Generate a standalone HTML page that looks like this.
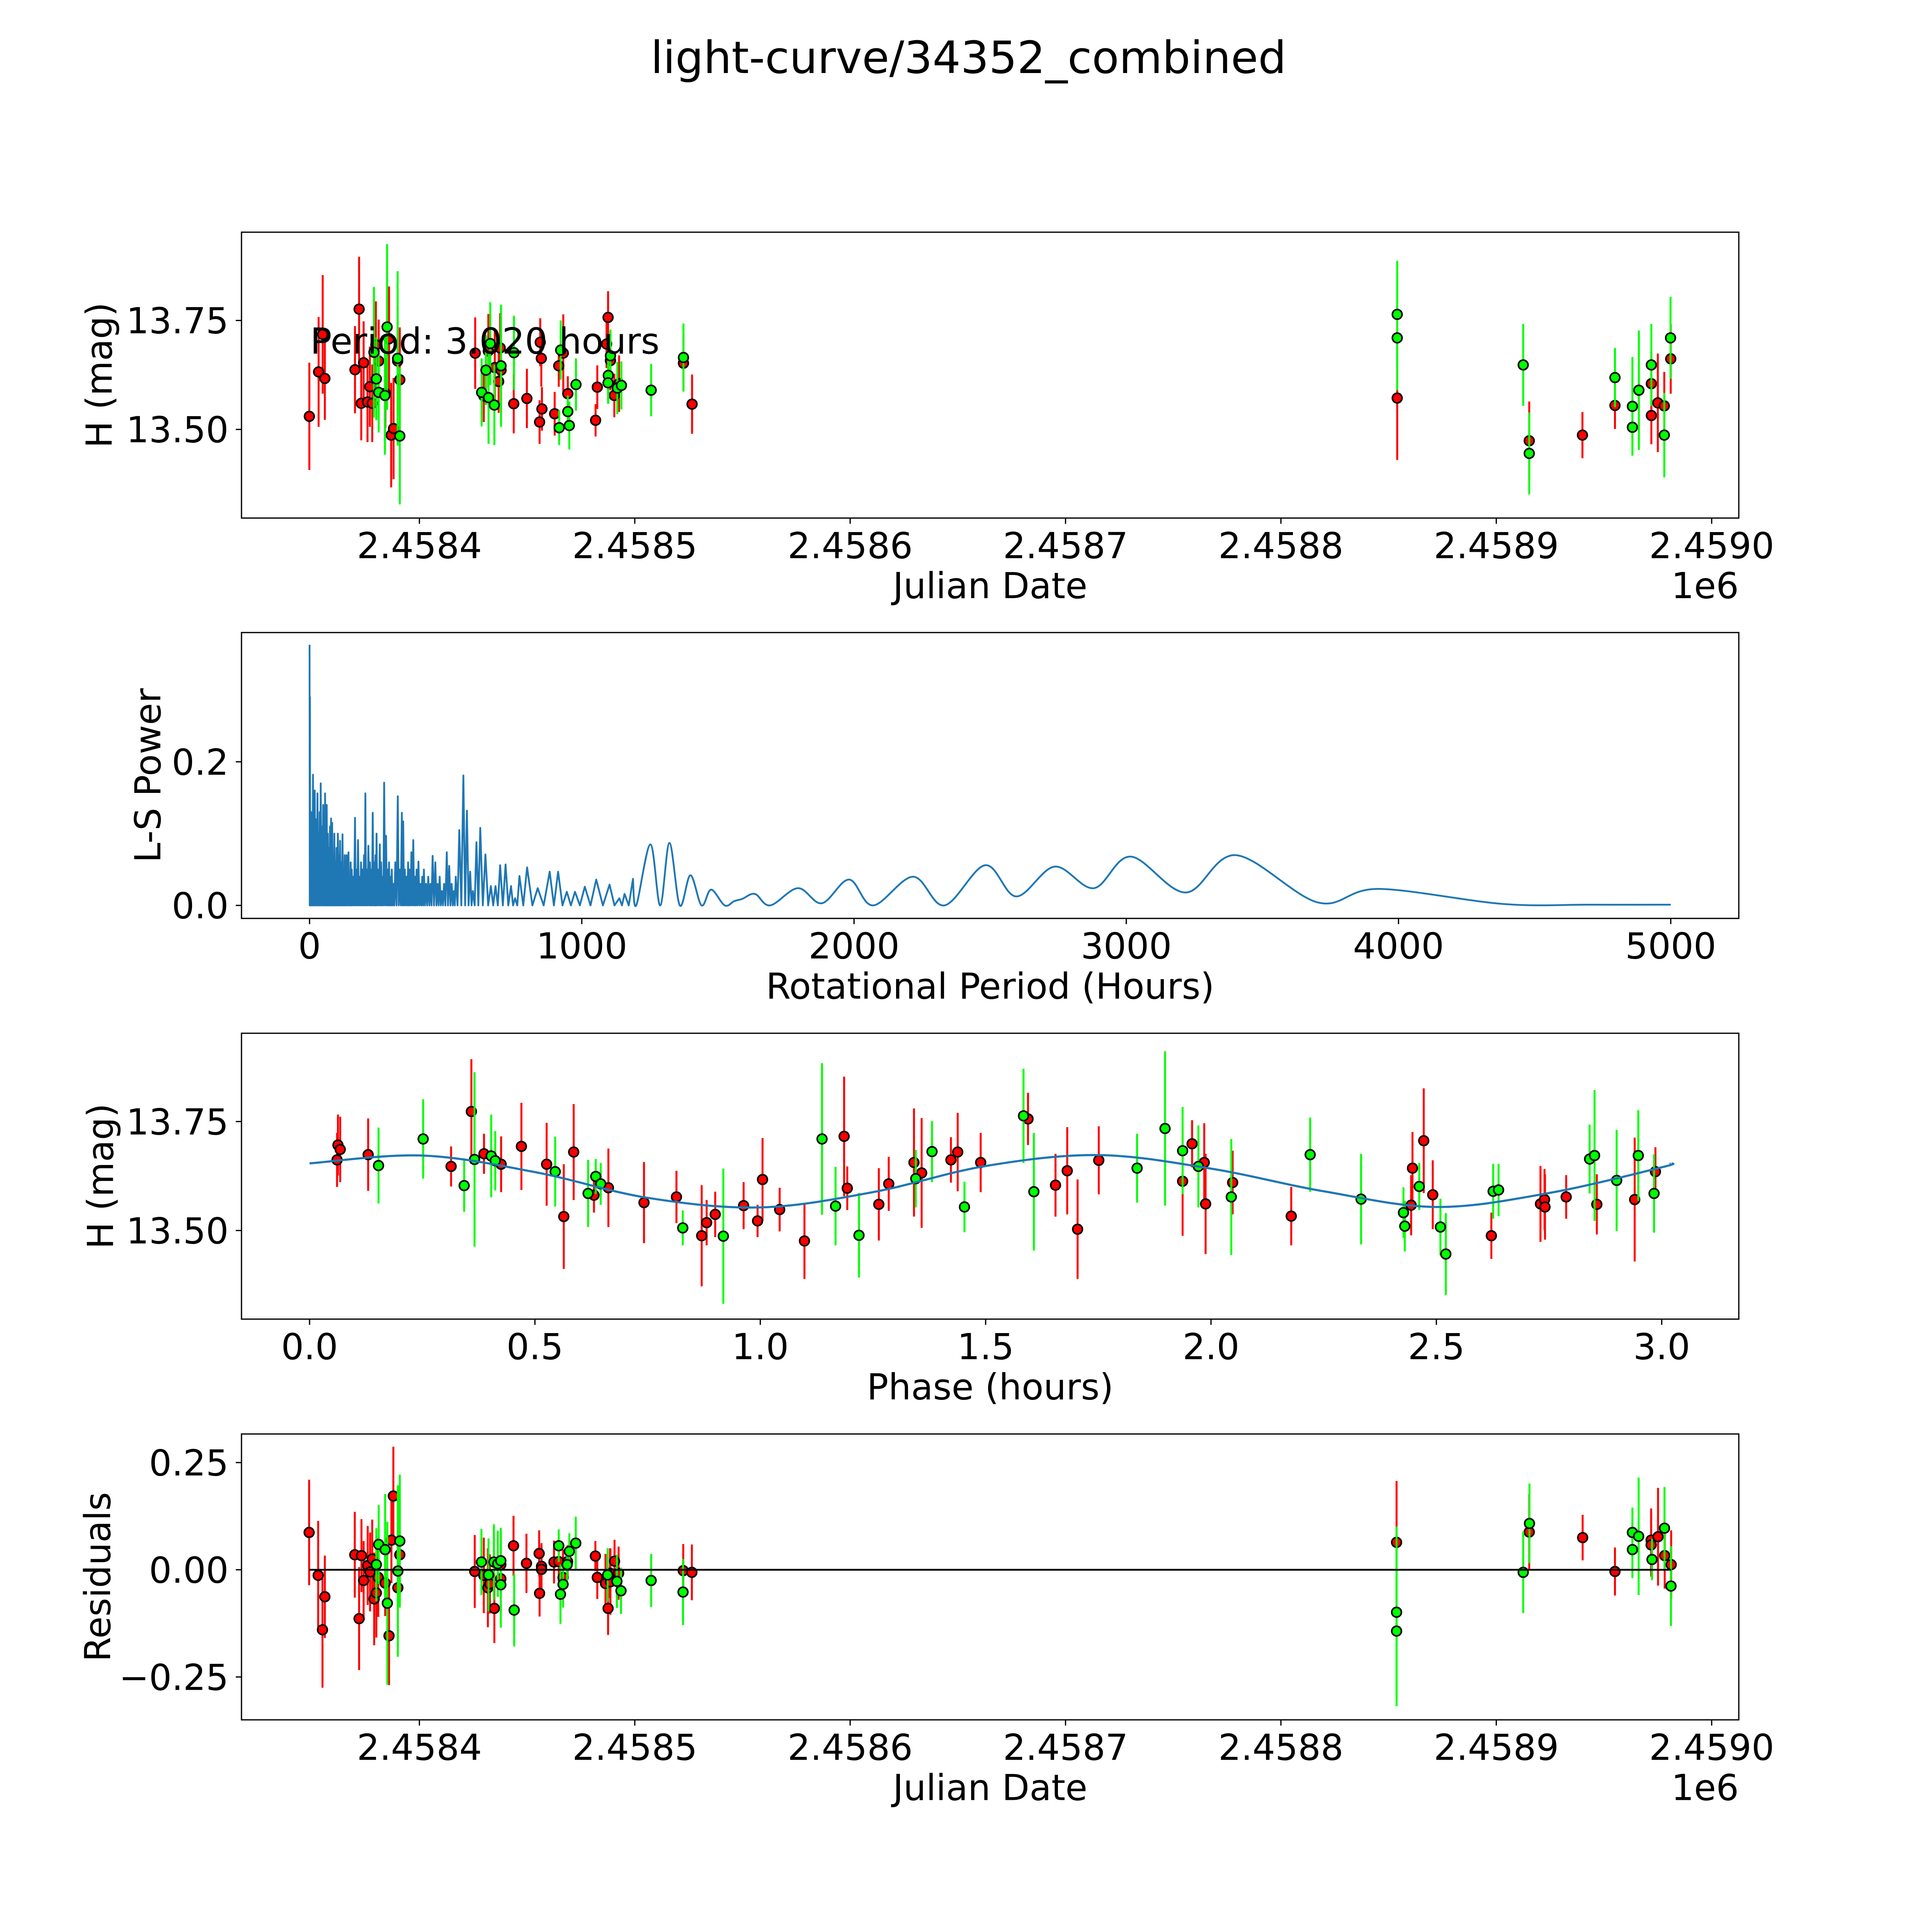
<!DOCTYPE html>
<html><head><meta charset="utf-8"><title>light-curve/34352_combined</title>
<style>html,body{margin:0;padding:0;background:#fff;overflow:hidden;width:5400px;height:5400px}svg{display:block}</style></head>
<body>
<svg id="chart" xmlns="http://www.w3.org/2000/svg" width="5400" height="5400" viewBox="0 0 5832 5832" font-family="DejaVu Sans, Liberation Sans, sans-serif">
<rect x="0" y="0" width="100%" height="100%" fill="#fff"/>
<text x="2707" y="204" font-size="124" text-anchor="middle">light-curve/34352_combined</text>
</svg>
<script>
// ---------- data ----------
const JD0 = 2458000;
const jdTickLabels = ["2.4584","2.4585","2.4586","2.4587","2.4588","2.4589","2.4590"];
const jdTickValues = [400,500,600,700,800,900,1000];
const magTickValues = [13.75,13.50];
const magTickLabels = ["13.75","13.50"];
// panel 1 : light curve vs Julian date (day = JD - 2458000)
const lcRedDay = [348.9,353.2,355.1,356.1,370.1,372.0,374.1,373.0,375.9,377.0,378.1,379.8,381.1,384.2,385.9,386.9,388.0,389.9,390.9,425.9,429.9,432.0,435.0,436.8,437.9,437.5,443.8,449.9,456.1,456.6,456.9,455.8,462.8,464.7,466.8,468.9,481.8,482.6,487.6,486.9,488.7,490.5,492.7,522.6,526.6,854.0,915.3,940.0,955.1,972.0,972.0,975.0,978.0,981.0];
const lcRedMag = [13.530,13.632,13.718,13.617,13.637,13.776,13.653,13.560,13.563,13.598,13.560,13.694,13.657,13.583,13.708,13.487,13.502,13.657,13.614,13.675,13.577,13.680,13.642,13.610,13.636,13.687,13.559,13.571,13.700,13.663,13.547,13.517,13.536,13.646,13.675,13.582,13.521,13.597,13.757,13.696,13.658,13.578,13.605,13.652,13.558,13.572,13.474,13.487,13.555,13.605,13.532,13.561,13.554,13.662];
const lcRedErr = [.123,.126,.136,.095,.10,.12,.095,.085,.092,.092,.089,.10,.095,.08,.12,.12,.116,.126,.12,.082,.06,.085,.085,.072,.1,.08,.068,.068,.055,.065,.05,.05,.05,.048,.089,.04,.037,.05,.06,.055,.068,.05,.065,.065,.068,.142,.09,.053,.054,.073,.066,.113,.078,.08];
const lcGreenDay = [378.9,380.0,381.1,384.0,385.0,389.9,390.9,428.9,430.9,432.9,432.1,434.8,437.9,443.9,464.9,465.6,468.9,469.6,472.7,488.7,487.7,487.6,491.9,493.8,507.6,522.6,854.0,854.0,912.5,915.3,955.1,963.2,963.2,966.2,972.0,978.0,980.9];
const lcGreenMag = [13.677,13.616,13.585,13.578,13.735,13.663,13.485,13.585,13.636,13.697,13.573,13.556,13.646,13.676,13.504,13.682,13.541,13.509,13.603,13.669,13.624,13.607,13.595,13.601,13.590,13.665,13.764,13.710,13.648,13.445,13.619,13.553,13.505,13.590,13.648,13.487,13.710];
const lcGreenErr = [.15,.095,.092,.136,.19,.2,.157,.078,.08,.095,.106,.092,.14,.085,.04,.068,.037,.055,.06,.06,.065,.048,.06,.055,.06,.078,.123,.12,.094,.094,.068,.113,.065,.137,.094,.097,.094];

// panel 2 : Lomb-Scargle periodogram
const periodTickValues = [0,1000,2000,3000,4000,5000];
const periodTickLabels = ["0","1000","2000","3000","4000","5000"];
const powerTickValues = [0.0,0.2];
const powerTickLabels = ["0.0","0.2"];
const densePeriods = [0,1.5,3,6,9,12.6,16,19,24,29,34,37,41,46,50,54,57,60,63,67,71,75,79,83,87,91,95,99,104,108,112,116,121,125,129,132,136,143,147,151,155,160,167,172,178,184,189,194,200,205,210,216,222,227,232,238,242,246,252,258,263,268,274,281,287,292,297,302,308,315,324,331,339,344,350,356,362,368,374,381,387,393,400,407,414,420,428,436,444,452,462,470,478,486,494,504,513,522,530,537,550,565,578,590,600,613,627,646,666,683,700,720,740,755,771,799,838,882,913,945,975,1011,1053,1102,1138,1157,1188];
const densePowers = [.363,.29,.12,.13,.10,.182,.09,.160,.12,.156,.10,.13,.170,.11,.14,.12,.156,.09,.140,.10,.08,.11,.121,.115,.07,.10,.06,.08,.100,.07,.09,.06,.099,.05,.07,.05,.070,.074,.04,.06,.05,.04,.122,.05,.091,.04,.06,.05,.07,.156,.05,.083,.06,.05,.129,.06,.07,.100,.05,.085,.06,.04,.171,.097,.05,.06,.04,.05,.03,.06,.152,.05,.129,.117,.05,.04,.06,.05,.074,.091,.04,.05,.061,.03,.04,.05,.03,.04,.03,.069,.060,.03,.04,.02,.03,.074,.055,.03,.02,.04,.105,.181,.132,.047,.02,.088,.108,.071,.027,.027,.056,.057,.027,.01,.041,.053,.024,.047,.047,.019,.019,.026,.036,.029,.01,.016,.037];
const smoothPeriods = [1200,1252,1288,1322,1360,1399,1440,1475,1525,1560,1589,1636,1692,1794,1882,1982,2070,2217,2332,2482,2596,2737,2881,3016,3218,3403,3705,3925,4385,4700,5000];
const smoothPowers = [0.0,.085,0.0,.087,0.0,.042,0.0,.022,0.0,.006,.009,.016,0.0,.024,.003,.036,0.0,.040,0.0,.056,.0125,.054,.024,.068,.018,.070,.004,.023,.002,.001,.001];

// panel 3 : phase-folded curve
const phaseTickValues = [0,0.5,1,1.5,2,2.5,3];
const phaseTickLabels = ["0.0","0.5","1.0","1.5","2.0","2.5","3.0"];
const phRed = [.063,.061,.068,.130,.314,.359,.387,.425,.470,.526,.564,.586,.631,.663,.742,.814,.870,.881,.900,.963,.994,1.005,1.043,1.098,1.186,1.193,1.263,1.285,1.341,1.358,1.423,1.438,1.489,1.594,1.655,1.681,1.704,1.751,1.937,1.958,1.985,1.988,2.048,2.178,2.447,2.444,2.472,2.492,2.622,2.731,2.740,2.741,2.788,2.856,2.940,2.986];
const phRedMag = [13.696,13.662,13.686,13.674,13.647,13.773,13.676,13.652,13.693,13.652,13.532,13.680,13.581,13.598,13.564,13.577,13.488,13.518,13.537,13.557,13.522,13.617,13.548,13.476,13.716,13.597,13.560,13.607,13.656,13.632,13.662,13.680,13.656,13.756,13.604,13.637,13.503,13.661,13.613,13.699,13.656,13.561,13.610,13.533,13.643,13.558,13.706,13.582,13.488,13.561,13.571,13.554,13.577,13.560,13.571,13.635];
const phRedErr = [.07,.062,.075,.083,.046,.12,.046,.064,.10,.095,.12,.11,.04,.09,.093,.06,.116,.052,.052,.054,.037,.095,.05,.087,.137,.05,.083,.062,.124,.126,.052,.09,.068,.06,.072,.10,.114,.078,.125,.054,.09,.115,.073,.067,.083,.069,.12,.079,.053,.087,.07,.075,.05,.069,.142,.056];
const phGreen = [.153,.252,.343,.366,.403,.412,.545,.618,.635,.646,.828,.918,1.137,1.167,1.219,1.345,1.381,1.453,1.584,1.607,1.836,1.898,1.937,1.972,2.045,2.220,2.333,2.427,2.430,2.462,2.509,2.521,2.626,2.638,2.840,2.851,2.900,2.948,2.983];
const phGreenMag = [13.649,13.710,13.603,13.663,13.671,13.660,13.635,13.585,13.624,13.607,13.506,13.487,13.710,13.556,13.489,13.619,13.681,13.554,13.763,13.589,13.643,13.734,13.683,13.647,13.577,13.674,13.572,13.541,13.510,13.601,13.508,13.446,13.590,13.593,13.664,13.672,13.615,13.672,13.585];
const phGreenErr = [.087,.091,.06,.2,.095,.068,.08,.077,.04,.048,.04,.155,.174,.09,.097,.066,.07,.058,.108,.135,.079,.177,.1,.094,.133,.085,.104,.058,.058,.054,.065,.094,.063,.06,.079,.15,.116,.104,.09];
const modelPhase = [0,.25,.5,.75,1,1.25,1.5,1.75,2,2.25,2.5,2.75,3,3.02];
const modelMag = [13.654,13.672,13.634,13.575,13.553,13.588,13.648,13.673,13.642,13.590,13.554,13.586,13.645,13.654];

// panel 4 : residuals
const resTickValues = [0.25,0,-0.25];
const resTickLabels = ["0.25","0.00","\u22120.25"];
const resRedDay = [348.8,353.0,355.0,356.1,370.0,373.1,372.0,374.1,376.0,377.1,378.1,379.0,380.0,380.9,384.1,385.9,387.0,387.9,390.0,390.9,425.7,429.9,431.8,432.7,434.8,437.8,437.8,443.7,449.7,455.6,456.7,456.7,455.8,462.5,464.7,466.7,468.8,481.7,482.6,486.4,487.6,488.5,488.7,490.6,492.5,522.5,526.5,853.7,915.3,940.1,955.1,971.9,971.9,975.1,978.2,981.2];
const resRed = [.087,-.013,-.140,-.063,.035,.033,-.114,-.025,.010,-.005,.025,-.068,-.054,-.018,-.031,-.154,.069,.172,-.042,.035,-.004,-.013,-.042,-.033,-.09,.012,-.021,.056,.015,.038,.008,.001,-.055,.018,.019,-.018,.019,.032,-.018,-.032,-.09,-.008,-.028,.02,-.008,-.002,-.006,.064,.088,.075,-.004,.069,.058,.077,.033,.012];
const resRedErr = [.123,.127,.135,.096,.1,.085,.12,.092,.092,.092,.092,.108,.104,.092,.077,.115,.1,.115,.108,.123,.085,.088,.092,.069,.081,.077,.077,.07,.069,.054,.054,.054,.054,.05,.046,.065,.038,.035,.05,.069,.062,.058,.077,.05,.062,.062,.065,.143,.088,.053,.056,.074,.074,.114,.077,.08];
const resGreenDay = [380.0,381.1,384.1,385.1,390.0,390.9,428.8,432.1,434.6,436.4,437.8,437.8,444.0,464.7,466.7,465.5,468.6,469.6,472.6,487.4,491.7,493.6,507.6,522.4,853.7,853.7,912.5,915.4,963.2,963.2,966.1,972.3,978.1,981.1];
const resGreen = [.012,.059,.047,-.078,-.003,.067,.018,-.012,.018,.014,.021,-.035,-.094,.056,-.034,-.057,.012,.043,.062,-.012,-.027,-.049,-.025,-.052,-.099,-.143,-.006,.108,.087,.047,.078,.024,.097,-.038];
const resGreenErr = [.085,.092,.13,.19,.2,.155,.077,.085,.088,.077,.077,.1,.085,.038,.054,.069,.038,.042,.062,.062,.062,.054,.062,.077,.2,.175,.095,.093,.058,.066,.137,.048,.096,.093];

// ---------- layout ----------
const svg = document.getElementById('chart');
const NS = 'http://www.w3.org/2000/svg';
const AX_L = 675, AX_R = 4860;
const panels = [
  {top:649, bottom:1448},
  {top:1768, bottom:2567},
  {top:2888, bottom:3687},
  {top:4008, bottom:4807}
];
function lin(d0,d1,r0,r1){ return v => r0 + (v-d0)/(d1-d0)*(r1-r0); }
const xJD = lin(317.4,1012.6,AX_L,AX_R);
const xPer = lin(-250,5250,AX_L,AX_R);
const xPh = lin(-0.151,3.171,AX_L,AX_R);
const yMag1 = lin(13.2967,13.9525,panels[0].bottom,panels[0].top);
const yPow = lin(-0.0181,0.380,panels[1].bottom,panels[1].top);
const yMag3 = lin(13.2967,13.9525,panels[2].bottom,panels[2].top);
const yRes = lin(-0.35,0.3167,panels[3].bottom,panels[3].top);

function mk(tag, parent){ const e = document.createElementNS(NS, tag); (parent||svg).appendChild(e); return e; }
function txt(parent, x, y, s, size, anchor){
  const t = mk('text', parent);
  t.setAttribute('x', x); t.setAttribute('y', y);
  t.setAttribute('font-size', size); t.setAttribute('text-anchor', anchor||'middle');
  t.textContent = s; return t;
}

function drawAxes(p, idx, xs, xvals, xlabs, ys, yvals, ylabs, xlabel, ylabel, ylabelX, offsetText){
  const g = mk('g');
  
  
  for (let i=0;i<xvals.length;i++){
    const x = xs(xvals[i]);
    const l = mk('line', g);
    l.setAttribute('x1', x); l.setAttribute('x2', x); l.setAttribute('y1', p.bottom); l.setAttribute('y2', p.bottom+16);
    l.setAttribute('stroke', '#000'); l.setAttribute('stroke-width', 3.5);
    
    
    const t = txt(g, x, p.bottom+112, xlabs[i], 100);
    
    
  }
  for (let i=0;i<yvals.length;i++){
    const y = ys(yvals[i]);
    const l = mk('line', g);
    l.setAttribute('x1', AX_L-16); l.setAttribute('x2', AX_L); l.setAttribute('y1', y); l.setAttribute('y2', y);
    l.setAttribute('stroke', '#000'); l.setAttribute('stroke-width', 3.5);
    
    
    const t = txt(g, AX_L-36, y+36, ylabs[i], 100, 'end');
    
    
  }
  const xl = txt(g, (AX_L+AX_R)/2, p.bottom+224, xlabel, 100);
  
  
  const cy = (p.top+p.bottom)/2;
  const yl = txt(g, ylabelX, cy, ylabel, 100);
  yl.setAttribute('transform', 'rotate(-90 ' + ylabelX + ' ' + cy + ')');
  
  
  if (offsetText){
    const o = txt(g, AX_R, p.bottom+224, offsetText, 100, 'end');
    
    
  }
}
function drawFrame(p, idx){
  const r = mk('rect');
  r.setAttribute('x', AX_L); r.setAttribute('y', p.top);
  r.setAttribute('width', AX_R-AX_L); r.setAttribute('height', p.bottom-p.top);
  r.setAttribute('fill', 'none'); r.setAttribute('stroke', '#000'); r.setAttribute('stroke-width', 3.5);
  
  
}
function drawSeries(name, xs, ys, xv, yv, ev, color){
  const g = mk('g');
  
  
  for (let i=0;i<xv.length;i++){
    const x = xs(xv[i]);
    const l = mk('line', g);
    l.setAttribute('x1', x); l.setAttribute('x2', x);
    l.setAttribute('y1', ys(yv[i]-ev[i])); l.setAttribute('y2', ys(yv[i]+ev[i]));
    l.setAttribute('stroke', color); l.setAttribute('stroke-width', 5.5);
    
    
  }
  for (let i=0;i<xv.length;i++){
    const c = mk('circle', g);
    c.setAttribute('cx', xs(xv[i])); c.setAttribute('cy', ys(yv[i])); c.setAttribute('r', 13.5);
    c.setAttribute('fill', color); c.setAttribute('stroke', '#000'); c.setAttribute('stroke-width', 4.5);
    
    
  }
}
function smoothPath(pts){
  let d = 'M' + pts[0][0] + ' ' + pts[0][1];
  for (let i=0;i<pts.length-1;i++){
    const p0 = pts[Math.max(0,i-1)], p1 = pts[i], p2 = pts[i+1], p3 = pts[Math.min(pts.length-1,i+2)];
    const c1x = p1[0] + (p2[0]-p0[0])/6, c1y = p1[1] + (p2[1]-p0[1])/6;
    const c2x = p2[0] - (p3[0]-p1[0])/6, c2y = p2[1] - (p3[1]-p1[1])/6;
    d += ' C' + c1x + ' ' + c1y + ' ' + c2x + ' ' + c2y + ' ' + p2[0] + ' ' + p2[1];
  }
  return d;
}

// ---------- panel 1 ----------
drawAxes(panels[0], 1, xJD, jdTickValues, jdTickLabels, yMag1, magTickValues, magTickLabels, 'Julian Date', 'H (mag)', 312, '1e6');
drawSeries('red-series-lightcurve', xJD, yMag1, lcRedDay, lcRedMag, lcRedErr, '#ff0000');
drawSeries('green-series-lightcurve', xJD, yMag1, lcGreenDay, lcGreenMag, lcGreenErr, '#00ff00');
const pt = txt(svg, 867, 988, 'Period: 3.020 hours', 100, 'start');


drawFrame(panels[0], 1);

// ---------- panel 2 ----------
drawAxes(panels[1], 2, xPer, periodTickValues, periodTickLabels, yPow, powerTickValues, powerTickLabels, 'Rotational Period (Hours)', 'L-S Power', 448, null);
(function(){
  let d = '';
  for (let i=0;i<densePeriods.length;i++){
    const x = xPer(densePeriods[i]);
    d += (i===0 ? 'M' : 'L') + x + ' ' + yPow(densePowers[i]) + ' ';
    if (i < densePeriods.length-1){
      const xm = xPer((densePeriods[i]+densePeriods[i+1])/2);
      d += 'L' + xm + ' ' + yPow(0) + ' ';
    }
  }
  const pts = [[xPer(densePeriods[densePeriods.length-1]), yPow(densePowers[densePowers.length-1])]];
  for (let i=0;i<smoothPeriods.length;i++) pts.push([xPer(smoothPeriods[i]), yPow(smoothPowers[i])]);
  d += smoothPath(pts).replace(/^M[^C]*/, '');
  const path = mk('path');
  path.setAttribute('d', d);
  path.setAttribute('fill', 'none'); path.setAttribute('stroke', '#1f77b4'); path.setAttribute('stroke-width', 5);
  path.setAttribute('stroke-linejoin', 'round');
  
  
})();
drawFrame(panels[1], 2);

// ---------- panel 3 ----------
drawAxes(panels[2], 3, xPh, phaseTickValues, phaseTickLabels, yMag3, magTickValues, magTickLabels, 'Phase (hours)', 'H (mag)', 316, null);
drawSeries('red-series-phase', xPh, yMag3, phRed, phRedMag, phRedErr, '#ff0000');
drawSeries('green-series-phase', xPh, yMag3, phGreen, phGreenMag, phGreenErr, '#00ff00');
(function(){
  const pts = modelPhase.map((p,i)=>[xPh(p), yMag3(modelMag[i])]);
  const path = mk('path');
  path.setAttribute('d', smoothPath(pts));
  path.setAttribute('fill', 'none'); path.setAttribute('stroke', '#1f77b4'); path.setAttribute('stroke-width', 6);
  
  
})();
drawFrame(panels[2], 3);

// ---------- panel 4 ----------
drawAxes(panels[3], 4, xJD, jdTickValues, jdTickLabels, yRes, resTickValues, resTickLabels, 'Julian Date', 'Residuals', 308, '1e6');
drawSeries('red-series-residuals', xJD, yRes, resRedDay, resRed, resRedErr, '#ff0000');
drawSeries('green-series-residuals', xJD, yRes, resGreenDay, resGreen, resGreenErr, '#00ff00');
(function(){
  const allDays = resRedDay.concat(resGreenDay);
  const l = mk('line');
  l.setAttribute('x1', xJD(Math.min.apply(null, allDays))); l.setAttribute('x2', xJD(Math.max.apply(null, allDays)));
  l.setAttribute('y1', yRes(0)); l.setAttribute('y2', yRes(0));
  l.setAttribute('stroke', '#000'); l.setAttribute('stroke-width', 5);
  
  
})();
drawFrame(panels[3], 4);
</script>
</body></html>
